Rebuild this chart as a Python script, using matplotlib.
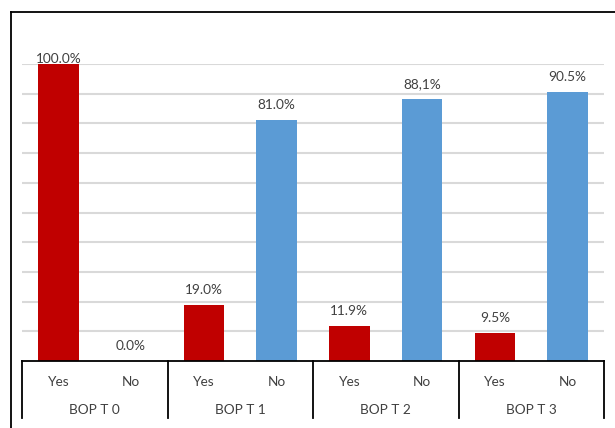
import matplotlib
matplotlib.use("Agg")
import matplotlib.pyplot as plt
from matplotlib.lines import Line2D

groups = ["BOP T 0", "BOP T 1", "BOP T 2", "BOP T 3"]
answers = ["Yes", "No"]
yes_values = [1.000, 0.190, 0.119, 0.095]
no_values = [0.000, 0.810, 0.881, 0.905]
yes_labels = ["100.0%", "19.0%", "11.9%", "9.5%"]
no_labels = ["0.0%", "81.0%", "88,1%", "90.5%"]

RED = "#C00000"
BLUE = "#5B9BD5"
TXT = "#404040"
plt.rcParams["font.family"] = ["Lato", "DejaVu Sans"]
FS = 9.8

W, H = 615, 428
fig = plt.figure(figsize=(W / 100, H / 100), dpi=100)
ax = fig.add_axes([22 / W, (H - 361) / H, (604 - 22) / W, 297 / H])

n = len(groups)
bw = 0.56
yes_x = [2 * i for i in range(n)]
no_x = [2 * i + 1 for i in range(n)]
ax.bar(yes_x, yes_values, width=bw, color=RED, zorder=3)
ax.bar(no_x, no_values, width=bw, color=BLUE, zorder=3)

def label(x, v, s):
    pad = 5 if v >= 0.99 else 15
    ax.annotate(s, (x, v), xytext=(0, pad), textcoords="offset pixels",
                ha="center", va="center", fontsize=FS, color=TXT,
                annotation_clip=False, zorder=5)

for x, v, s in zip(yes_x, yes_values, yes_labels):
    label(x, v, s)
for x, v, s in zip(no_x, no_values, no_labels):
    label(x, v, s)

ax.set_xlim(-0.5, 2 * n - 0.5)
ax.set_ylim(0, 1.0)
ax.set_yticks([i / 10 for i in range(1, 11)])
ax.yaxis.grid(True, color="#D9D9D9", linewidth=1.5, zorder=0)
ax.tick_params(axis="both", length=0, labelleft=False, labelbottom=False)
for s in ["left", "right", "top"]:
    ax.spines[s].set_visible(False)
ax.spines["bottom"].set_color("black")
ax.spines["bottom"].set_linewidth(1.3)
ax.spines["bottom"].set_zorder(4)
ax.set_xticks([])

# category labels
for i in range(n):
    for j, a in enumerate(answers):
        ax.text(2 * i + j, -21 / 297, a, ha="center", va="center",
                fontsize=FS, color=TXT, clip_on=False)
    ax.text(2 * i + 0.5, -49 / 297, groups[i], ha="center", va="center",
            fontsize=FS, color=TXT, clip_on=False)

# separators
for k in range(n + 1):
    xs = 2 * k - 0.5
    ax.add_line(Line2D([xs, xs], [0, -57 / 297], color="black",
                       linewidth=1.3, clip_on=False))

# outer frame
fig.add_artist(Line2D([11 / W, 11 / W], [0, (H - 12) / H], color="black",
                      linewidth=1.3, transform=fig.transFigure))
fig.add_artist(Line2D([11 / W, 1], [(H - 12) / H, (H - 12) / H], color="black",
                      linewidth=1.3, transform=fig.transFigure))

fig.savefig("out.png", dpi=100)
